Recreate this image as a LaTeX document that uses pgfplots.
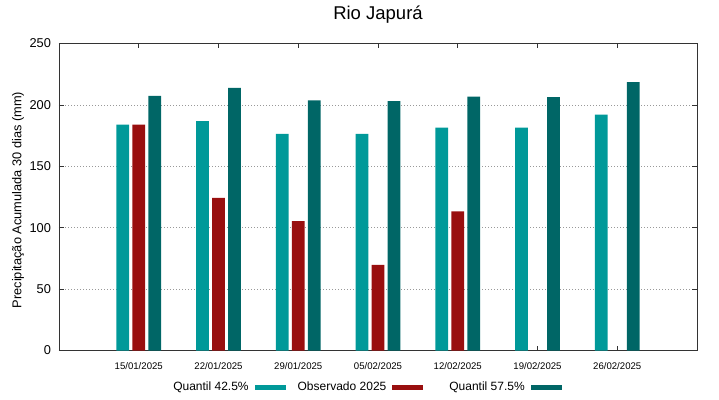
\documentclass[border=0pt]{standalone}
\usepackage{fontspec}
\setmainfont{Liberation Sans}
\usepackage{pgfplots}
\pgfplotsset{compat=1.18}
\definecolor{qlow}{HTML}{009999}
\definecolor{obs}{HTML}{990F0F}
\definecolor{qhigh}{HTML}{006666}
\begin{document}
\begin{tikzpicture}
\begin{axis}[
  scale only axis, width=638bp, height=307bp,
  xmin=-1, xmax=7, ymin=0, ymax=250,
  xtick={0,1,2,3,4,5,6},
  xticklabels={15/01/2025,22/01/2025,29/01/2025,05/02/2025,12/02/2025,19/02/2025,26/02/2025},
  ytick={0,50,100,150,200,250},
  ybar, bar width=12.7bp,
  tick align=inside, major tick length=5bp, tick pos=both,
  tick style={black!80, line width=0.7bp},
  axis line style={black!80, line width=0.8bp},
  ymajorgrids, grid style={gray!80, line width=0.6bp, dash pattern=on 1bp off 2bp},
  /pgf/number format/assume math mode=true,
  yticklabel style={font=\fontsize{12.8bp}{15bp}\selectfont, xshift=-4.5bp},
  xticklabel style={font=\fontsize{9.6bp}{11bp}\selectfont, yshift=-8.5bp},
  title={Rio Japurá},
  title style={font=\fontsize{18.5bp}{21bp}\selectfont, at={(axis description cs:0.5,1)}, anchor=base, yshift=18bp},
  ylabel={Precipitação Acumulada 30 dias (mm)},
  every axis y label/.style={at={([xshift=-41bp]axis description cs:0,0.49)}, rotate=90, anchor=center, font=\fontsize{12.8bp}{15bp}\selectfont},
  legend columns=3, legend plot pos=right,
  legend style={at={(axis description cs:0.482,-0.119)}, anchor=center, draw=none, fill=none,
    font=\fontsize{12bp}{14bp}\selectfont, inner sep=0pt,
    /tikz/every odd column/.append style={column sep=4bp},
    /tikz/column 2/.style={column sep=10bp},
    /tikz/column 4/.style={column sep=24bp}},
]
\addplot[fill=qlow, draw=none, bar shift=-16bp,
  legend image code/.code={\fill[qlow] (0bp,-2.5bp) rectangle (31bp,2.5bp);}]
  coordinates {(0,184) (1,186.8) (2,176.5) (3,176.5) (4,181.4) (5,181.4) (6,192)};
\addlegendentry{Quantil 42.5\%}
\addplot[fill=obs, draw=none, bar shift=0bp,
  legend image code/.code={\fill[obs] (0bp,-2.5bp) rectangle (31bp,2.5bp);}]
  coordinates {(0,184) (1,124.3) (2,105.4) (3,69.8) (4,113.2)};
\addlegendentry{Observado 2025}
\addplot[fill=qhigh, draw=none, bar shift=16bp,
  legend image code/.code={\fill[qhigh] (0bp,-2.5bp) rectangle (31bp,2.5bp);}]
  coordinates {(0,207.4) (1,213.9) (2,203.6) (3,203) (4,206.8) (5,206.3) (6,218.6)};
\addlegendentry{Quantil 57.5\%}
\end{axis}
\path ([shift={(-59bp,-48.5bp)}]current axis.south west) rectangle ([shift={(22bp,43.5bp)}]current axis.north east);
\end{tikzpicture}
\end{document}
